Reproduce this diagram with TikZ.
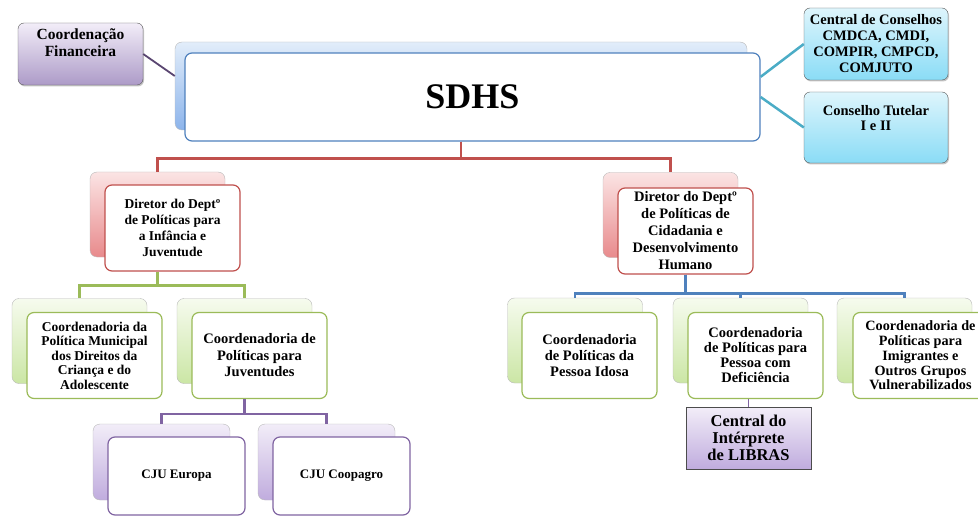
\documentclass[tikz,border=0pt]{standalone}
\usepackage{fontspec}
\setmainfont{Liberation Serif}
\usetikzlibrary{shadows}

\definecolor{redline}{RGB}{192,80,77}
\definecolor{greenline}{RGB}{155,187,89}
\definecolor{purpleline}{RGB}{128,100,162}
\definecolor{blueline}{RGB}{79,129,189}
\definecolor{cyanline}{RGB}{75,172,198}
\definecolor{redtop}{RGB}{251,228,228}
\definecolor{redbot}{RGB}{232,138,140}
\definecolor{greentop}{RGB}{246,251,238}
\definecolor{greenbot}{RGB}{203,230,165}
\definecolor{purpletop}{RGB}{242,237,248}
\definecolor{purplebot}{RGB}{192,172,222}
\definecolor{bluetop}{RGB}{226,237,250}
\definecolor{bluebot}{RGB}{140,180,235}
\definecolor{cyantop}{RGB}{222,245,252}
\definecolor{cyanbot}{RGB}{138,220,246}

\begin{document}
\begin{tikzpicture}[
  x=1pt, y=-1pt,
  every node/.style={align=center, inner sep=2pt},
  txt/.style 2 args={font=\fontsize{#1}{#2}\selectfont\bfseries},
  back_box/.style={draw=gray!55, rounded corners=7pt, minimum width=135pt, minimum height=85pt},
  front_box/.style={fill=white, line width=1.2pt, rounded corners=7pt, minimum width=135pt, minimum height=86pt},
  red_back/.style={back_box, top color=redtop, bottom color=redbot},
  green_back/.style={back_box, top color=greentop, bottom color=greenbot},
  purple_back/.style={back_box, top color=purpletop, bottom color=purplebot, minimum width=137pt, minimum height=76pt},
  red_front/.style={front_box, draw=redline},
  green_front/.style={front_box, draw=greenline},
  purple_front/.style={front_box, draw=purpleline, minimum width=137pt, minimum height=78pt},
  side_box/.style={draw=gray!70!black, rounded corners=6pt, top color=cyantop, bottom color=cyanbot,
    minimum width=144pt, minimum height=72pt, drop shadow={shadow xshift=1pt, shadow yshift=-1.5pt, fill=black!45}},
  red_line/.style={draw=redline, line width=2.5pt},
  green_line/.style={draw=greenline, line width=2.5pt},
  purple_line/.style={draw=purpleline, line width=2.5pt},
  blue_line/.style={draw=blueline, line width=2.5pt},
  cyan_line/.style={draw=cyanline, line width=2.5pt}
  ]
  \useasboundingbox (0,0) rectangle (978,524);

	\node[draw=gray!70!black, rounded corners=6pt, top color=purpletop, bottom color=purplebot!90!black,
	  minimum width=125pt, minimum height=62pt, txt={15.5}{17},
	  drop shadow={shadow xshift=1pt, shadow yshift=-1.5pt, fill=black!45}] (fin) at (80.5,54) {Coordenação\\Financeira\\\strut};

	\node[back_box, top color=bluetop, bottom color=bluebot, minimum width=572pt, minimum height=88pt] (sdhs_b) at (461,86) {};
	\node[front_box, draw=blueline, minimum width=575pt, minimum height=88pt, txt={36}{40}] (sdhs_f) at (472.5,97) {SDHS};

	\node[side_box, txt={14.5}{16}] (central) at (876,44) {Central de Conselhos\\CMDCA, CMDI,\\COMPIR, CMPCD,\\COMJUTO};
	\node[side_box, minimum height=71pt, txt={14.5}{15}] (tutelar) at (876,127.5) {Conselho Tutelar\\I e II\\\strut};

	\node[red_back] (dir1_b) at (157.5,214.5) {};
	\node[red_front, txt={13.5}{16}] (dir1_f) at (172.5,228) {Diretor do Deptº\\de Políticas para\\a Infância e\\Juventude};

	\node[red_back] (dir2_b) at (670.5,215) {};
	\node[red_front, txt={14.5}{17}] (dir2_f) at (685.5,231) {Diretor do Deptº\\de Políticas de\\Cidadania e\\Desenvolvimento\\Humano};

	\node[green_back] (l1_b) at (79.5,341) {};
	\node[green_front, txt={13.5}{14.5}] (l1_f) at (94.5,355.5) {Coordenadoria da\\Política Municipal\\dos Direitos da\\Criança e do\\Adolescente};

	\node[green_back] (l2_b) at (244.5,341) {};
	\node[green_front, txt={14.5}{16.5}] (l2_f) at (259.5,355.5) {Coordenadoria de\\Políticas para\\Juventudes};

	\node[purple_back] (cju1_b) at (161.5,462) {};
	\node[purple_front, txt={13}{15}] (cju1_f) at (176.5,476) {CJU Europa};

	\node[purple_back] (cju2_b) at (326.5,462) {};
	\node[purple_front, txt={13}{15}] (cju2_f) at (341.5,476) {CJU Coopagro};

	\node[green_back] (r1_b) at (575,340.5) {};
	\node[green_front, txt={14.5}{16}] (r1_f) at (589.5,355.5) {Coordenadoria\\de Políticas da\\Pessoa Idosa};

	\node[green_back] (r2_b) at (740.5,340.5) {};
	\node[green_front, txt={14.5}{15}] (r2_f) at (755.5,355.5) {Coordenadoria\\de Políticas para\\Pessoa com\\Deficiência};

	\node[green_back] (r3_b) at (904.5,340.5) {};
	\node[green_front, txt={14.2}{14.7}] (r3_f) at (920.5,355.5) {Coordenadoria de\\Políticas para\\Imigrantes e\\Outros Grupos\\Vulnerabilizados};

	\node[draw=gray!60!black, top color=purpletop, bottom color=purplebot, minimum width=125pt, minimum height=62pt,
	  txt={16.5}{17}] (libras) at (748.5,438) {Central do\\Intérprete\\de LIBRAS};

	\draw[draw=purpleline!70!black, line width=1.8pt] (fin.east) -- (sdhs_b.178);
	\draw[cyan_line] (sdhs_f.4) -- (central.west);
	\draw[cyan_line] (sdhs_f.east) -- (tutelar.west);

	\draw[red_line] (sdhs_b |- sdhs_f.south) -- ++(0,17) -| (dir1_b.north);
	\draw[red_line] (sdhs_b |- sdhs_f.south) -- ++(0,17) -| (dir2_b.north);

	\draw[green_line] (dir1_b |- dir1_f.south) -- ++(0,14) -| (l1_b.north);
	\draw[green_line] (dir1_b |- dir1_f.south) -- ++(0,14) -| (l2_b.north);

	\draw[purple_line] (l2_b |- l2_f.south) -- ++(0,15) -| (cju1_b.north);
	\draw[purple_line] (l2_b |- l2_f.south) -- ++(0,15) -| (cju2_b.north);

	\draw[blue_line] (dir2_f.south) -- ++(0,19) -| (r1_b.north);
	\draw[blue_line] (dir2_f.south) -- ++(0,19) -| (r2_b.north);
	\draw[blue_line] (dir2_f.south) -- ++(0,19) -| (r3_b.north);

	\draw[purple_line, line width=1.8pt] (libras.north) -- (libras |- r2_f.south);
\end{tikzpicture}
\end{document}
